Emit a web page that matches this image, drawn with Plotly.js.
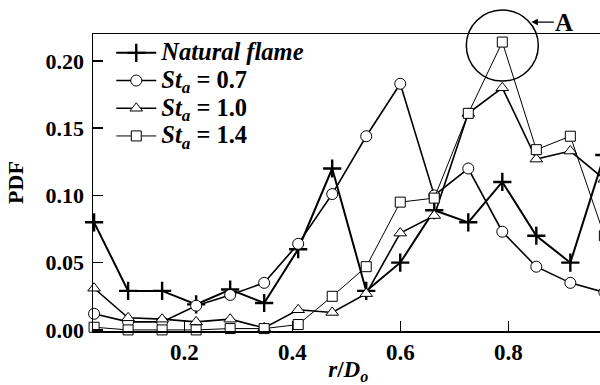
<!DOCTYPE html>
<html>
<head>
<meta charset="utf-8">
<script src="https://cdn.plot.ly/plotly-3.0.1.min.js"></script>
<style>
html,body{margin:0;padding:0;overflow:hidden;background:#fff;width:600px;height:385px;}
#chart{width:640px;height:385px;}
</style>
</head>
<body>
<div id="chart"></div>
<script>
// r/D_o positions
const rD = [0.033, 0.096, 0.159, 0.222, 0.285, 0.348, 0.411, 0.474, 0.537, 0.600, 0.663, 0.726, 0.789, 0.852, 0.915, 0.978];
const naturalFlame = [0.080, 0.029, 0.029, 0.019, 0.030, 0.020, 0.060, 0.120, 0.029, 0.050, 0.089, 0.080, 0.110, 0.070, 0.050, 0.130];
const st07 = [0.012, 0.006, 0.006, 0.018, 0.026, 0.035, 0.064, 0.101, 0.144, 0.183, 0.100, 0.120, 0.073, 0.047, 0.035, 0.028];
const st10 = [0.031, 0.009, 0.008, 0.006, 0.008, 0.0015, 0.015, 0.013, 0.027, 0.072, 0.085, 0.161, 0.180, 0.127, 0.133, 0.112];
const st14 = [0.002, 0.000, 0.000, 0.000, 0.001, 0.001, 0.004, 0.025, 0.047, 0.095, 0.098, 0.161, 0.214, 0.134, 0.144, 0.070];
const seriesNames = ['<i>Natural flame</i>', '<i>St</i><sub><i>a</i></sub> = 0.7', '<i>St</i><sub><i>a</i></sub> = 1.0', '<i>St</i><sub><i>a</i></sub> = 1.4'];
const xTickVals = [0.2, 0.4, 0.6, 0.8];
const xTickText = ['0.2', '0.4', '0.6', '0.8'];
const yTickVals = [0.00, 0.05, 0.10, 0.15, 0.20];
const yTickText = ['0.00', '0.05', '0.10', '0.15', '0.20'];

const xRange = [0.031, 0.9977];
const yRange = [-0.0008, 0.220];
const FONT = 'Liberation Serif, Times New Roman, serif';
const big = s => '<span style="font-size:24.5px">' + s + '</span>';

const traces = [
  {x: rD, y: naturalFlame, name: big(seriesNames[0]), mode: 'lines+markers', cliponaxis: false,
   line: {color: '#000', width: 2},
   marker: {symbol: 'cross-thin', size: 13, color: '#000', line: {color: '#000', width: 2.4}}},
  {x: rD, y: st07, name: big(seriesNames[1]), mode: 'lines+markers', cliponaxis: false,
   line: {color: '#000', width: 1.6},
   marker: {symbol: 'circle', size: 11, color: '#fff', line: {color: '#000', width: 1}}},
  {x: rD, y: st10, name: big(seriesNames[2]), mode: 'lines+markers', cliponaxis: false,
   line: {color: '#000', width: 1.6},
   marker: {symbol: 'triangle-up', size: 11, color: '#fff', line: {color: '#000', width: 1}}},
  {x: rD, y: st14, name: big(seriesNames[3]), mode: 'lines+markers', cliponaxis: false,
   line: {color: '#000', width: 1},
   marker: {symbol: 'square', size: 10, color: '#fff', line: {color: '#000', width: 1}}}
];

// peak of St_a = 1.4 marked with circle "A"
let pk = 0;
st14.forEach((v, i) => { if (v > st14[pk]) pk = i; });
const pxPaper = (rD[pk] - xRange[0]) / (xRange[1] - xRange[0]);
const pyPaper = (st14[pk] - yRange[0]) / (yRange[1] - yRange[0]);

const layout = {
  width: 640, height: 385,
  margin: {l: 93, r: 25, t: 34, b: 54},
  paper_bgcolor: '#fff', plot_bgcolor: '#fff',
  font: {family: FONT, color: '#000', size: 20, weight: 'bold'},
  showlegend: true,
  legend: {x: 0.035, y: 1.0, xanchor: 'left', yanchor: 'top', bgcolor: 'rgba(0,0,0,0)',
           itemwidth: 40,
           font: {family: FONT, size: 19, color: '#000', weight: 'bold'}, tracegroupgap: 0},
  xaxis: {range: xRange, tickvals: xTickVals, ticktext: xTickText,
          ticks: 'inside', ticklen: 10, tickwidth: 1.5, tickcolor: '#000',
          showline: true, linecolor: '#000', linewidth: 1.5, mirror: true,
          showgrid: false, zeroline: false,
          tickfont: {family: FONT, size: 23, weight: 'bold'},
          title: {text: '<i>r</i>/<i>D</i><sub><i>o</i></sub>&nbsp;&nbsp;', font: {family: FONT, size: 23, weight: 'bold'}, standoff: 2}},
  yaxis: {range: yRange, tickvals: yTickVals, ticktext: yTickText,
          ticks: 'inside', ticklen: 10, tickwidth: 1.5, tickcolor: '#000',
          showline: true, linecolor: '#000', linewidth: 1.5, mirror: true,
          showgrid: false, zeroline: false, ticklabelstandoff: 3,
          tickfont: {family: FONT, size: 22, weight: 'bold'},
          title: {text: 'PDF', font: {family: FONT, size: 22, weight: 'bold'}, standoff: 16}},
  shapes: [{type: 'circle', xref: 'paper', yref: 'paper', xsizemode: 'pixel', ysizemode: 'pixel',
            xanchor: pxPaper, yanchor: pyPaper, x0: -36, x1: 36, y0: -39, y1: 32,
            line: {color: '#000', width: 1.5}}],
  annotations: [{xref: 'paper', yref: 'paper', x: pxPaper, y: pyPaper, xshift: 29, yshift: 20,
                 text: '<b>A</b>', showarrow: true, ax: 33, ay: 0, arrowhead: 2, arrowsize: 1,
                 arrowwidth: 1.3, arrowcolor: '#000', font: {family: FONT, size: 25, color: '#000'}}]
};

Plotly.newPlot('chart', traces, layout, {staticPlot: true, displayModeBar: false});
</script>
</body>
</html>
